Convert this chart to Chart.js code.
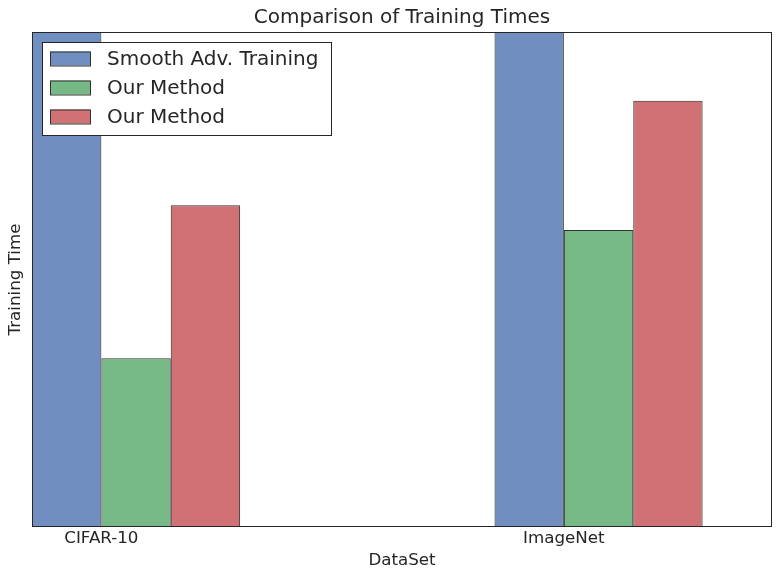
<!DOCTYPE html>
<html>
<head>
<meta charset="utf-8">
<script src="https://cdn.jsdelivr.net/npm/chart.js@4/dist/chart.umd.min.js"></script>
<style>
  html, body { margin: 0; padding: 0; background: #fff; }
  canvas { display: block; }
</style>
</head>
<body>
<canvas id="timeChart" width="781" height="579"></canvas>
<script>
// Chart data
const categories = ['CIFAR-10', 'ImageNet'];
const seriesNames = ['Smooth Adv. Training', 'Our Method', 'Our Method'];
const smoothAdvTimes = [100, 100];
const ourMethodTimes = [34.1, 60.0];
const ourMethodTimes2 = [65.0, 86.1];
const seriesValues = [smoothAdvTimes, ourMethodTimes, ourMethodTimes2];

const fillColors = ['rgba(76,114,176,0.8)', 'rgba(85,168,104,0.8)', 'rgba(196,78,82,0.8)'];
const textColor = '#262626';
const fontFamily = "'DejaVu Sans', sans-serif";
const groupShift = 0.075; // bar groups start at the tick

// Title + boxed legend + plot frame, drawn the matplotlib way
const framePlugin = {
    id: 'framePlugin',
    afterDraw(chart) {
        const ctx = chart.ctx;
        const area = chart.chartArea;

        ctx.save();
        ctx.strokeStyle = '#262626';
        ctx.lineWidth = 1;
        ctx.strokeRect(Math.round(area.left) + 0.5, Math.round(area.top) + 0.5,
            Math.round(area.right - area.left) - 1, Math.round(area.bottom - area.top) - 1);

        // Title
        ctx.fillStyle = textColor;
        ctx.font = '20px ' + fontFamily;
        ctx.textAlign = 'center';
        ctx.textBaseline = 'middle';
        ctx.fillText('Comparison of Training Times', (area.left + area.right) / 2, 18);

        // Legend
        const lx = area.left + 10, ly = area.top + 10;
        const lw = 289, lh = 93;
        ctx.fillStyle = '#fff';
        ctx.fillRect(lx, ly, lw, lh);
        ctx.strokeStyle = '#262626';
        ctx.strokeRect(lx + 0.5, ly + 0.5, lw, lh);
        ctx.font = '20px ' + fontFamily;
        ctx.textAlign = 'left';
        chart.data.datasets.forEach((ds, i) => {
            const cy = ly + 16.5 + i * 29;
            ctx.fillStyle = ds.backgroundColor;
            ctx.fillRect(lx + 8, cy - 7, 40, 14);
            ctx.strokeStyle = '#333';
            ctx.strokeRect(lx + 8.5, cy - 6.5, 40, 14);
            ctx.fillStyle = textColor;
            ctx.fillText(ds.label, lx + 65, cy + 1);
        });
        ctx.restore();
    }
};

const ctx = document.getElementById('timeChart').getContext('2d');
new Chart(ctx, {
    type: 'bar',
    data: {
        datasets: seriesValues.map((vals, i) => ({
            label: seriesNames[i],
            data: vals.map((v, j) => ({ x: j + groupShift, y: v })),
            backgroundColor: fillColors[i],
            borderColor: '#333',
            borderWidth: 1,
            categoryPercentage: 0.45,
            barPercentage: 1.0
        }))
    },
    options: {
        responsive: false,
        animation: false,
        layout: { padding: { top: 32, right: 9, bottom: 0, left: 0 } },
        plugins: {
            legend: { display: false },
            tooltip: { enabled: false },
            title: { display: false }
        },
        scales: {
            x: {
                type: 'linear',
                offset: false,
                min: -0.15,
                max: 1.45,
                grid: { display: false, drawTicks: false },
                border: { display: false },
                afterBuildTicks: scale => {
                    scale.ticks = categories.map((c, i) => ({ value: i }));
                },
                afterFit: scale => { scale.height = 52; },
                ticks: {
                    padding: 2,
                    color: textColor,
                    font: { family: fontFamily, size: 16.7 },
                    maxRotation: 0,
                    callback: value => categories[value]
                },
                title: {
                    display: true,
                    text: 'DataSet',
                    color: textColor,
                    font: { family: fontFamily, size: 16.7 },
                    padding: { top: 0, bottom: 8 }
                }
            },
            y: {
                min: 0,
                max: 100,
                grid: { display: false, drawTicks: false },
                border: { display: false },
                ticks: { display: false },
                afterFit: scale => { scale.width = 32; },
                title: {
                    display: true,
                    text: 'Training Time',
                    color: textColor,
                    font: { family: fontFamily, size: 16.7 },
                    padding: { top: 6, bottom: 0 }
                }
            }
        }
    },
    plugins: [framePlugin]
});
</script>
</body>
</html>
